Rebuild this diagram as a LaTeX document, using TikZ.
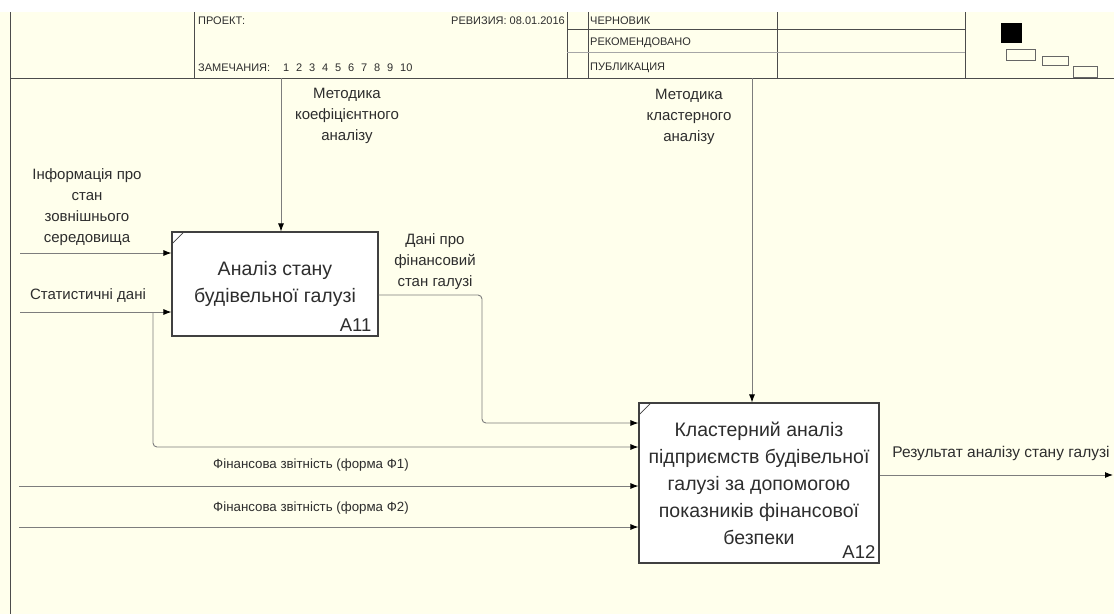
\documentclass[tikz,border=0pt]{standalone}
\usepackage{fontspec}
\setmainfont{Liberation Sans}
\usetikzlibrary{positioning}
\usetikzlibrary{arrows.meta}

\definecolor{paper}{RGB}{255,255,236}
\definecolor{wire}{RGB}{125,125,125}
\definecolor{ink}{RGB}{45,45,45}

\begin{document}
\begin{tikzpicture}[x=1pt,y=-1pt,
    flow/.style={draw=wire, line width=0.9pt, rounded corners=4pt, -{Latex[length=8pt,width=6pt,color=black]}},
    frame/.style={draw=black!70, line width=1pt},
    func/.style={draw=black!75, fill=white, line width=1.1pt, align=center, text=ink, font=\fontsize{19.5}{27}\selectfont},
    tag/.style={text=ink, inner sep=0pt, font=\fontsize{18.5}{20}\selectfont},
    lbl/.style={align=center, text=ink, inner sep=0pt, font=\fontsize{15}{21}\selectfont},
    small lbl/.style={text=ink, inner sep=0pt, font=\fontsize{13.3}{16}\selectfont},
    hdr/.style={anchor=west, text=ink, inner sep=0pt, font=\fontsize{11}{12}\selectfont}]
    \useasboundingbox (0,0) rectangle (1114,614);
    \fill[white] (0,0) rectangle (1114,12);
    \fill[paper] (0,12) rectangle (1114,614);

    \draw[frame] (10,12) -- (10,614);
    \draw[frame] (10,78) -- (1114,78);
    \draw[frame] (194,12) -- (194,78);
    \draw[frame] (567,12) -- (567,78);
    \draw[frame] (588,12) -- (588,78);
    \draw[frame] (777,12) -- (777,78);
    \draw[frame] (965,12) -- (965,78);
    \draw[frame] (567,29) -- (965,29);
    \draw[frame, draw=black!35] (567,52) -- (965,52);
    \node[hdr] (project) at (198,21) {ПРОЕКТ:};
    \node[hdr, anchor=east] (revision) at (565,21) {РЕВИЗИЯ: 08.01.2016};
    \node[hdr] (notes) at (198,68) {ЗАМЕЧАНИЯ:};
    \foreach \n [count=\i] in {1,...,10}
        \node[hdr] (note\n) at (270+13*\i,68) {\n};
    \node[hdr] (draft) at (590,21) {ЧЕРНОВИК};
    \node[hdr] (recommended) at (590,43) {РЕКОМЕНДОВАНО};
    \node[hdr] (publication) at (590,68) {ПУБЛИКАЦИЯ};
    \fill[black] (1001,23) rectangle (1022,43);
    \draw[black!60, line width=1pt] (1006,49) rectangle (1035,60);
    \draw[black!60, line width=1pt] (1042,56) rectangle (1068,65);
    \draw[black!60, line width=1pt] (1073,66) rectangle (1097,77);

    \node[func, minimum width=206pt, minimum height=104pt] (a11) at (275,284) {Аналіз стану\\будівельної галузі};
    \node[func, minimum width=240pt, minimum height=160pt] (a12) at (759,483)
        {Кластерний аналіз\\підприємств будівельної\\галузі за допомогою\\показників фінансової\\безпеки};
    \draw[black!75, line width=0.8pt] ([yshift=-13pt]a11.north west) -- ([xshift=13pt]a11.north west);
    \draw[black!75, line width=0.8pt] ([yshift=-13pt]a12.north west) -- ([xshift=13pt]a12.north west);
    \node[tag, anchor=south east] (a11id) at ([xshift=-7pt,yshift=5pt]a11.south east) {A11};
    \node[tag, anchor=south east] (a12id) at ([xshift=-4pt,yshift=5pt]a12.south east) {A12};

    \coordinate (ctl1) at (281,78);
    \coordinate (ctl2) at (752,78);
    \coordinate (in1) at (20,253);
    \coordinate (in2) at (20,312);
    \coordinate (fork) at (153,312);
    \coordinate (f1) at (19,486);
    \coordinate (f2) at (19,527);
    \coordinate (out) at (1113,475);

    \draw[flow] (ctl1) -- (ctl1 |- a11.north);
    \draw[flow] (ctl2) -- (ctl2 |- a12.north);
    \draw[flow] (in1) -- (in1 -| a11.west);
    \draw[flow] (in2) -- (in2 -| a11.west);
    \draw[flow] (fork) -- (153,447) -- (a12.west |- 0,447);
    \draw[flow] ([yshift=-11pt]a11.east) -- (482,295) -- (482,423) -- (a12.west |- 0,423);
    \draw[flow] (f1) -- (f1 -| a12.west);
    \draw[flow] (f2) -- (f2 -| a12.west);
    \draw[flow] ([yshift=8pt]a12.east) -- (out);

    \node[lbl] (method1) at (347,116) {Методика\\коефіцієнтного\\аналізу};
    \node[lbl] (method2) at (689,117) {Методика\\кластерного\\аналізу};
    \node[lbl] (envinfo) at (87,207) {Інформація про\\стан\\зовнішнього\\середовища};
    \node[lbl] (stats) at (88,296) {Статистичні дані};
    \node[lbl] (findata) at (435,262) {Дані про\\фінансовий\\стан галузі};
    \node[small lbl] (form1) at (311,465) {Фінансова звітність (форма Ф1)};
    \node[small lbl] (form2) at (311,508) {Фінансова звітність (форма Ф2)};
    \node[small lbl, font=\fontsize{15.5}{18}\selectfont] (result) at (1001,453) {Результат аналізу стану галузі};
\end{tikzpicture}
\end{document}
